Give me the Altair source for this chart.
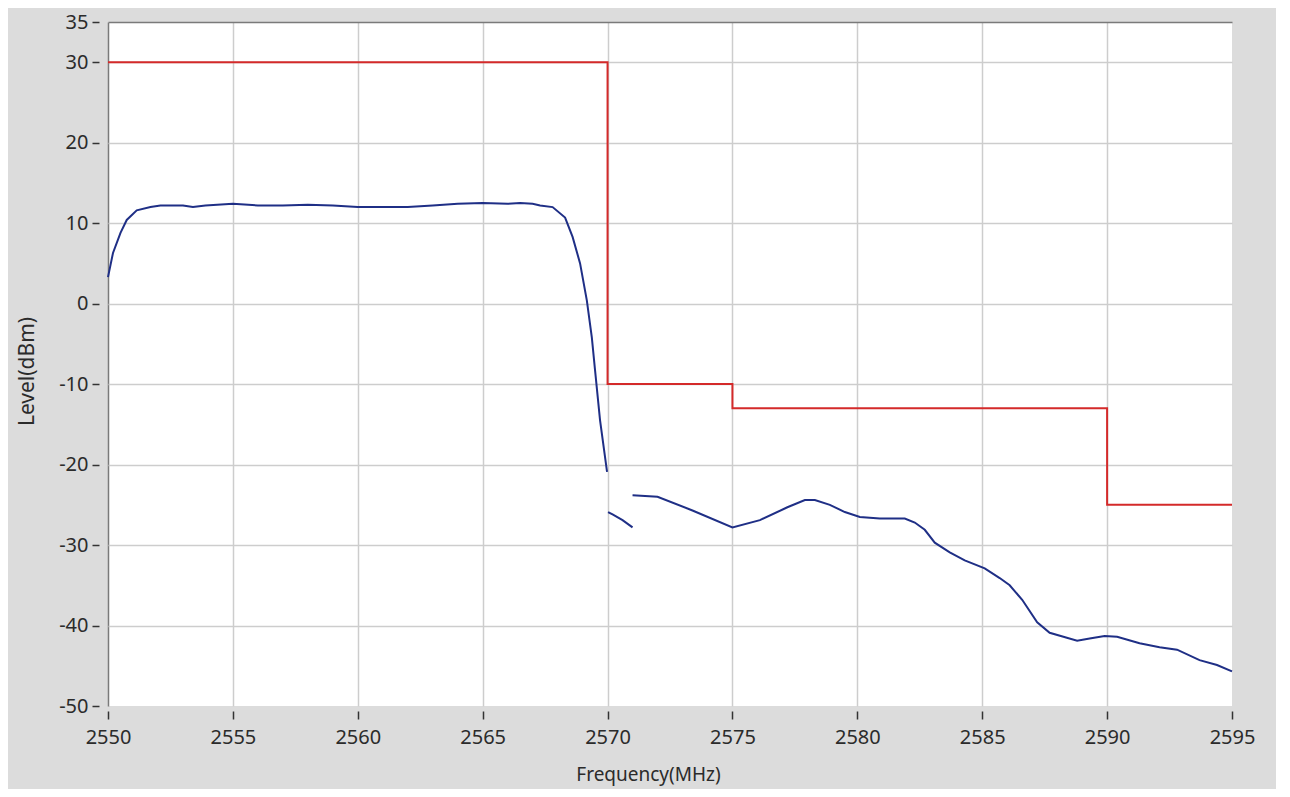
import altair as alt
import pandas as pd

# Measured trace, segment 1 (in-band + roll-off)
f1 = [2550.0, 2550.2, 2550.5, 2550.75, 2551.15, 2551.7, 2552.1, 2553.0, 2553.4, 2553.9,
      2555.0, 2556.0, 2557.0, 2558.0, 2559.0, 2560.0, 2561.0, 2562.0, 2563.0, 2564.0,
      2565.0, 2566.0, 2566.5, 2567.0, 2567.3, 2567.8, 2568.3, 2568.6, 2568.9, 2569.17,
      2569.37, 2569.5, 2569.7, 2569.98]
l1 = [3.3, 6.3, 8.8, 10.4, 11.6, 12.0, 12.2, 12.2, 12.0, 12.2,
      12.4, 12.2, 12.2, 12.3, 12.2, 12.0, 12.0, 12.0, 12.2, 12.4,
      12.5, 12.4, 12.5, 12.4, 12.2, 12.0, 10.7, 8.3, 5.0, 0.4,
      -4.2, -8.3, -14.5, -20.9]

# Segment 2 (short piece just above 2570 MHz)
f2 = [2570.02, 2570.2, 2570.6, 2571.0]
l2 = [-25.9, -26.2, -26.9, -27.8]

# Segment 3 (out-of-band emissions)
f3 = [2571.0, 2572.0, 2573.4, 2575.0, 2576.1, 2577.2, 2577.9, 2578.3, 2578.9, 2579.5,
      2580.1, 2580.9, 2581.9, 2582.3, 2582.7, 2583.1, 2583.7, 2584.3, 2585.1, 2585.7,
      2586.1, 2586.6, 2587.2, 2587.7, 2588.8, 2589.3, 2589.9, 2590.4, 2591.3, 2592.1,
      2592.8, 2593.7, 2594.4, 2595.0]
l3 = [-23.8, -24.0, -25.7, -27.8, -26.9, -25.3, -24.4, -24.4, -25.0, -25.9,
      -26.5, -26.7, -26.7, -27.2, -28.1, -29.7, -30.9, -31.9, -32.9, -34.1,
      -35.0, -36.8, -39.6, -40.9, -41.9, -41.6, -41.3, -41.4, -42.2, -42.7,
      -43.0, -44.3, -44.9, -45.7]

# Limit mask (step)
mask_f = [2550, 2570, 2575, 2590, 2595]
mask_l = [30, -10, -13, -25, -25]

x_ticks = [2550, 2555, 2560, 2565, 2570, 2575, 2580, 2585, 2590, 2595]
y_ticks = [-50, -40, -30, -20, -10, 0, 10, 20, 30, 35]

trace = pd.concat([
    pd.DataFrame({"f": f1, "lvl": l1, "seg": 1}),
    pd.DataFrame({"f": f2, "lvl": l2, "seg": 2}),
    pd.DataFrame({"f": f3, "lvl": l3, "seg": 3}),
], ignore_index=True)
mask = pd.DataFrame({"f": mask_f, "lvl": mask_l})

FONT = "Noto Sans"

x_enc = alt.X(
    "f:Q",
    scale=alt.Scale(domain=[2550, 2595], nice=False, zero=False),
    axis=alt.Axis(
        title="Frequency(MHz)",
        values=x_ticks,
        labelExpr="'' + datum.value",
        domain=False,
        offset=5,
        tickSize=8,
        tickWidth=1.5,
        tickColor="#333333",
        labelPadding=8,
        labelFontSize=20,
        labelFont=FONT,
        labelColor="#2b2b2b",
        titleFontSize=19,
        titleFont=FONT,
        titleFontWeight="normal",
        titleColor="#2b2b2b",
        titleX=540,
        titleY=69,
        titleAlign="center",
        titleBaseline="alphabetic",
        gridColor={"condition": {"test": "datum.value == 2550", "value": "#7a7a7a"}, "value": "#cdcdcd"},
        gridOpacity={"condition": {"test": "datum.value == 2595", "value": 0}, "value": 1},
        gridWidth=1.5,
        labelFlush=False,
    ),
)
y_enc = alt.Y(
    "lvl:Q",
    scale=alt.Scale(domain=[-50, 35], nice=False, zero=False),
    axis=alt.Axis(
        title="Level(dBm)",
        values=y_ticks,
        labelExpr="'' + datum.value",
        domain=False,
        offset=9,
        tickSize=7,
        tickWidth=1.5,
        tickColor="#333333",
        labelPadding=4,
        labelFontSize=20,
        labelFont=FONT,
        labelColor="#2b2b2b",
        titleFontSize=21,
        titleFont=FONT,
        titleFontWeight="normal",
        titleColor="#2b2b2b",
        titleX=-62,
        titleY=349,
        titleAlign="center",
        gridColor={"condition": {"test": "datum.value == 35", "value": "#7a7a7a"}, "value": "#cdcdcd"},
        gridOpacity={"condition": {"test": "datum.value == -50", "value": 0}, "value": 1},
        gridWidth=1.5,
        labelFlush=False,
    ),
)

mask_line = alt.Chart(mask).mark_line(
    interpolate="step-after", color="#d42a2a", strokeWidth=2
).encode(x=x_enc, y=y_enc)

trace_line = alt.Chart(trace).mark_line(
    color="#1f2f86", strokeWidth=2
).encode(x="f:Q", y="lvl:Q", detail="seg:N")

chart = alt.layer(mask_line, trace_line).properties(
    width=1124,
    height=684,
    background="#dcdcdc",
    padding={"left": 100, "top": 14, "right": 44, "bottom": 83},
    autosize=alt.AutoSizeParams(type="none"),
).configure_view(fill="white", stroke=None)

chart.save("out.html", embed_options={"renderer": "svg", "actions": False})
